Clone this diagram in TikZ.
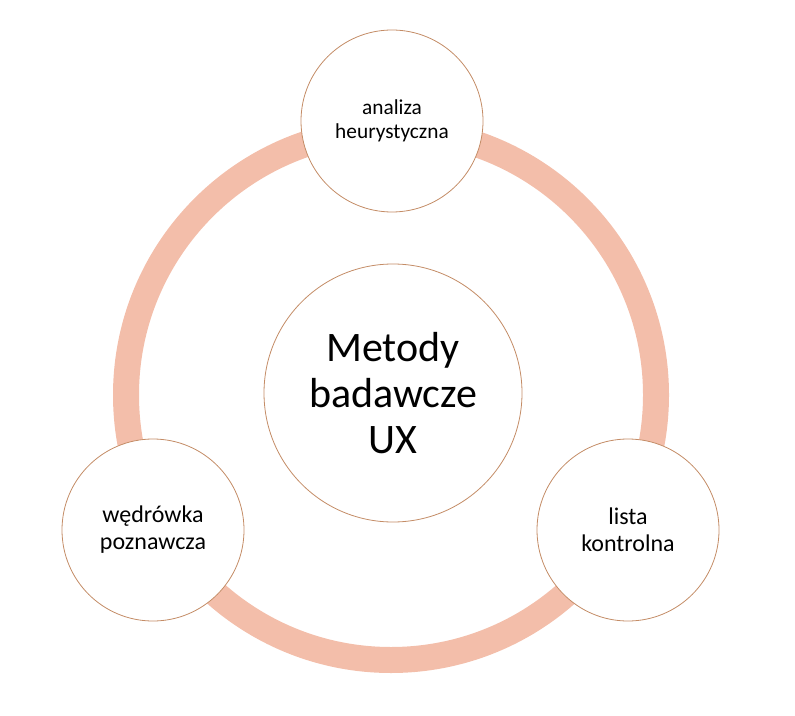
\documentclass[tikz,border=0pt]{standalone}
\usepackage{fontspec}
\setmainfont{Carlito}
\usepackage{xcolor}
\usepackage{tikz}
\usetikzlibrary{positioning}

\definecolor{ringpeach}{RGB}{243,190,170}
\definecolor{rimbrown}{RGB}{196,140,102}

\begin{document}
\begin{tikzpicture}[x=0.75pt, y=-0.75pt]
\tikzstyle{method} = [circle, draw=rimbrown, line width=0.6pt, fill=white, minimum size=136.5pt, inner sep=0pt, align=center, font=\fontsize{18}{20.25}\selectfont]
\tikzstyle{core} = [method, minimum size=193.5pt, font=\fontsize{31.5}{34.5}\selectfont]

\useasboundingbox (0,0) rectangle (795,716);

% the big ring behind everything
\coordinate (hub) at (391,395);
\draw[ringpeach, line width=19.5pt] (hub) circle[radius=198.75pt];

\node (core) [core] at (393,393) {Metody\\badawcze\\UX};
\node (heur) [method, font=\fontsize{16}{18}\selectfont] at (392,121) {analiza\\heurystyczna};
\node (walk) [method] at (153,530) {wędrówka\\poznawcza};
\node (check) [method] at (628,530) {lista\\kontrolna};

\end{tikzpicture}
\end{document}
